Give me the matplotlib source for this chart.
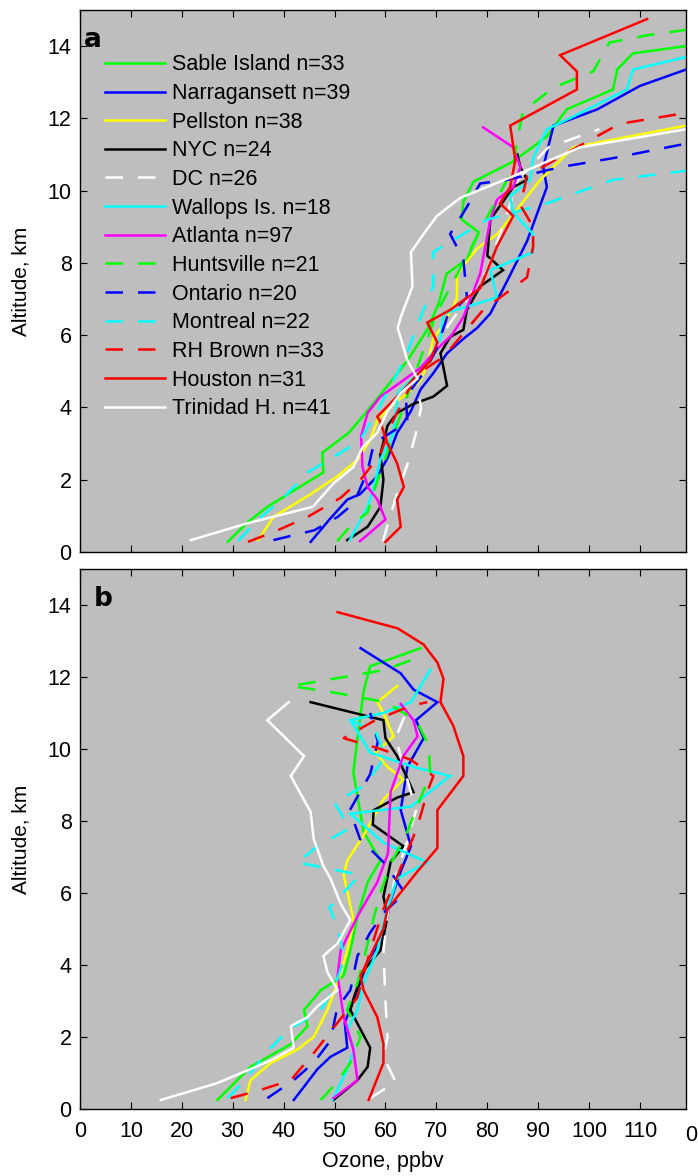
import matplotlib
matplotlib.use("Agg")
import matplotlib.pyplot as plt
from matplotlib.transforms import blended_transform_factory

plt.rcParams['font.family'] = ['Liberation Sans', 'DejaVu Sans']

stations = ["Sable Island n=33", "Narragansett n=39", "Pellston n=38", "NYC n=24",
            "DC n=26", "Wallops Is. n=18", "Atlanta n=97", "Huntsville n=21",
            "Ontario n=20", "Montreal n=22", "RH Brown n=33", "Houston n=31",
            "Trinidad H. n=41"]
colors = ["#00ff00", "#0000ff", "#ffff00", "#000000", "#ffffff", "#00ffff", "#ff00ff",
          "#00ff00", "#0000ff", "#00ffff", "#ff0000", "#ff0000", "#ffffff"]
dashed = [False, False, False, False, True, False, False,
          True, True, True, True, False, False]

# ---- panel a: ozone (ppbv) and altitude (km) ----
sable_a_o3 = [29, 33, 36.8, 42, 47.8, 47.6, 52.8, 56.4, 60.4, 64.3, 68.2, 70.5, 72, 76, 78.3,
              75, 75.3, 77.3, 85, 91.7, 95.6, 104.7, 105.5, 108.6, 119]
sable_a_km = [0.28, 0.83, 1.25, 1.7, 2.2, 2.75, 3.3, 3.9, 4.6, 5.3, 6.15, 6.9, 7.7, 8.1, 8.85,
              9.2, 9.7, 10.25, 10.8, 11.5, 12.25, 12.8, 13.35, 13.8, 14.0]
narr_a_o3 = [45.3, 49, 52.5, 55, 58.4, 60.4, 62.3, 65, 66.9, 69.4, 72.1, 75.3, 78, 80.6, 83.9,
             87.8, 91.7, 91, 93, 101.6, 110, 119]
narr_a_km = [0.28, 0.9, 1.45, 1.6, 2.1, 2.6, 3.3, 3.9, 4.5, 4.95, 5.5, 5.9, 6.2, 6.6, 7.5,
             8.6, 10.1, 10.65, 11.8, 12.25, 12.9, 13.35]
pell_a_o3 = [35, 38, 45.3, 50.6, 54.5, 57, 58.4, 61.6, 64.3, 66.9, 68.2, 69.4, 71.4, 74, 74.1,
             78, 82, 86.5, 90.4, 96.9, 119]
pell_a_km = [0.33, 0.97, 1.6, 2.1, 2.55, 3.1, 3.65, 4.1, 4.4, 4.75, 5.2, 5.9, 6.3, 7.0, 7.7,
             8.4, 8.8, 9.6, 10.3, 11.2, 11.8]
nyc_a_o3 = [52.5, 56.5, 59, 59.6, 59, 60.4, 62.3, 65.5, 69.4, 72.1, 71.4, 70.8, 72.7, 75.3, 76,
            78.6, 83.1, 80, 80.6, 85.1, 87.8, 86.5, 85.9]
nyc_a_km = [0.33, 0.7, 1.25, 2.0, 2.7, 3.5, 3.85, 4.1, 4.3, 4.6, 5.1, 5.5, 5.95, 6.15, 6.7,
            7.35, 7.8, 8.2, 9.2, 10.1, 10.3, 10.65, 11.0]
dc_a_o3 = [59.5, 62, 64.5, 66, 67, 66, 69, 72, 76, 80, 82, 84, 86, 92, 102]
dc_a_km = [0.3, 1.5, 2.5, 3.3, 4.0, 4.8, 5.5, 6.2, 7.0, 7.8, 8.6, 9.4, 10.3, 11.2, 11.7]
wall_a_o3 = [53, 56.5, 57.7, 59, 61.6, 62.4, 67.5, 70.8, 71.4, 78.6, 81.9, 80.6, 89, 89, 85,
             84.5, 88.4, 89, 91.7, 96.9, 107.4, 108.6, 119]
wall_a_km = [0.33, 1.25, 1.8, 2.55, 3.3, 4.4, 5.1, 5.9, 6.6, 6.9, 7.05, 7.8, 8.3, 8.8, 9.4,
             9.85, 10.3, 10.9, 11.7, 12.05, 12.8, 13.35, 13.7]
atl_a_o3 = [55, 60, 58.4, 56.5, 55.5, 55.2, 56.5, 59, 63, 66.9, 70, 73, 75.3, 78.6, 80.6,
            81.9, 85.1, 86.5, 85.1, 79.2]
atl_a_km = [0.3, 0.9, 1.45, 1.8, 2.35, 3.2, 3.85, 4.3, 4.7, 5.1, 5.6, 6.0, 6.5, 7.7, 9.2,
            9.75, 10.1, 10.65, 11.2, 11.75]
hunt_a_o3 = [50.5, 53, 56.5, 58, 60, 62, 64, 66, 68, 70, 73, 76, 79, 82, 85, 86, 87, 93,
             100.8, 104, 111.4, 119]
hunt_a_km = [0.3, 0.7, 1.1, 1.8, 2.6, 3.4, 4.2, 5.0, 5.8, 6.6, 7.4, 8.2, 9.0, 9.8, 10.6, 11.5,
             12.2, 12.85, 13.3, 14.1, 14.3, 14.45]
ont_a_o3 = [38, 46, 50.6, 53.8, 56.5, 57.7, 61, 64.3, 64, 67.5, 70, 72.1, 76, 75.3, 72.7, 76,
            78.6, 84, 94.3, 104.7, 119]
ont_a_km = [0.33, 0.6, 0.97, 1.35, 2.25, 3.0, 3.3, 3.6, 4.3, 4.95, 5.6, 6.5, 7.05, 8.1, 8.8,
            9.55, 10.2, 10.3, 10.65, 10.9, 11.3]
mont_a_o3 = [31, 35, 40, 44.7, 51.8, 55, 58, 61, 64, 66, 69.4, 69.4, 74.7, 80, 91.7, 104.7, 119]
mont_a_km = [0.3, 0.9, 1.5, 2.2, 2.8, 3.1, 3.8, 4.6, 5.4, 6.2, 7.35, 8.3, 8.75, 9.2, 9.65,
             10.3, 10.55]
rhb_a_o3 = [33, 38.8, 44.7, 51.2, 55.1, 59, 61, 63.5, 66, 71.4, 79.2, 84.5, 87.8, 89, 89,
            86.5, 87.8, 96.3, 106, 119]
rhb_a_km = [0.28, 0.6, 0.97, 1.5, 2.0, 2.7, 3.5, 4.2, 4.9, 5.4, 6.7, 7.25, 7.6, 8.45, 9.0,
            9.6, 10.4, 11.1, 11.85, 12.15]
hou_a_o3 = [60, 63, 62.3, 63.6, 62.3, 60.4, 59, 58.4, 63, 68.8, 70.2, 68.2, 72.7, 78.6, 81.9,
            85.1, 82.5, 84.5, 85.5, 84.5, 90.4, 97.6, 97.6, 94.3, 111.4]
hou_a_km = [0.28, 0.7, 1.45, 1.8, 2.45, 3.0, 3.6, 3.75, 4.4, 5.3, 5.8, 6.35, 6.7, 7.3, 8.45,
            9.3, 9.65, 10.1, 10.85, 11.8, 12.25, 12.8, 13.3, 13.75, 14.75]
trin_a_o3 = [21.8, 33, 45.7, 49.8, 53.7, 55.5, 58.4, 60.4, 63, 66.3, 64.3, 62.4, 63, 65.3, 65,
             67.5, 70.1, 74.7, 85.1, 98.2, 119]
trin_a_km = [0.33, 0.8, 1.25, 1.9, 2.35, 2.9, 3.3, 3.9, 4.4, 4.8, 5.3, 6.2, 6.5, 7.35, 8.3,
             8.8, 9.3, 9.8, 10.4, 11.2, 11.7]

# ---- panel b ----
sable_b_o3 = [27, 33.5, 41.4, 44.7, 44, 47.3, 51.8, 53.1, 54.5, 56.5, 59, 55.7, 53.7, 54.5,
              55.7, 57, 63, 66.9]
sable_b_km = [0.25, 1.17, 1.8, 2.3, 2.75, 3.3, 3.7, 4.4, 5.35, 6.3, 6.9, 7.7, 9.35, 10.3,
              11.6, 12.3, 12.6, 12.8]
narr_b_o3 = [42, 46.6, 49.2, 52.5, 52, 54.5, 56.5, 59.6, 61, 63, 65, 63, 64.3, 67.5, 66, 70.2,
             65.5, 63, 55.1]
narr_b_km = [0.25, 1.1, 1.45, 1.7, 2.4, 3.3, 4.1, 4.8, 5.8, 6.6, 7.3, 8.3, 9.5, 10.3, 10.8,
             11.3, 11.65, 12.1, 12.8]
pell_b_o3 = [32.5, 33.5, 37.5, 42.7, 45.9, 48.6, 50.6, 52.5, 53.8, 51.8, 52.5, 55.7, 59.6,
             63.5, 60.4, 58, 61.6, 59.6, 58.4, 62.3]
pell_b_km = [0.25, 0.8, 1.28, 1.65, 2.0, 2.75, 3.5, 4.4, 5.2, 6.5, 6.9, 7.6, 8.6, 9.15, 9.5,
             9.9, 10.35, 11.0, 11.3, 11.75]
nyc_b_o3 = [49.8, 54.5, 56.5, 57, 53.1, 53.8, 55.7, 59, 60.4, 59.6, 61, 63.5, 57.5, 57.7,
            62.3, 65.5, 62.3, 60, 59.6, 45.3]
nyc_b_km = [0.25, 0.8, 1.17, 1.7, 2.75, 3.1, 3.85, 4.4, 5.35, 5.9, 6.85, 7.3, 7.9, 8.3,
            8.65, 8.8, 9.8, 10.3, 10.8, 11.3]
dc_b_o3 = [57, 62, 59.6, 60.4, 60, 59.6, 60.5, 62, 64, 66, 64, 62, 64]
dc_b_km = [0.3, 0.75, 1.45, 2.0, 3.0, 4.4, 5.5, 6.5, 7.3, 8.3, 9.3, 10.3, 11.0]
wall_b_o3 = [49.6, 52.5, 53.8, 52.5, 54.5, 55.7, 58.4, 60, 62.3, 68.2, 59.6, 53.1, 65, 72.7,
             65.5, 57, 53.1, 59.6, 65, 68.8]
wall_b_km = [0.25, 1.1, 1.65, 2.2, 2.75, 3.5, 4.4, 5.4, 6.4, 6.85, 7.4, 8.2, 8.4, 9.25, 9.5,
             9.9, 10.8, 11.0, 11.3, 12.2]
atl_b_o3 = [49.8, 54.5, 53.7, 51.8, 50.6, 51.2, 54.5, 58.4, 60.5, 61, 63.5, 66.3, 65.5, 63]
atl_b_km = [0.3, 0.8, 1.65, 2.55, 3.7, 4.4, 5.35, 6.3, 7.1, 8.8, 9.8, 10.35, 10.8, 11.25]
hunt_b_o3 = [47.3, 50.5, 53.1, 55.1, 52.5, 54.5, 56, 57.5, 59, 61, 64, 66.5, 68.8, 68.5, 66,
             60, 50.6, 41.4, 52, 60, 67.5]
hunt_b_km = [0.25, 0.75, 1.28, 2.0, 2.75, 3.5, 4.3, 5.2, 6.0, 6.8, 7.6, 8.5, 9.3, 10.1, 10.8,
             11.3, 11.55, 11.75, 12.0, 12.2, 12.6]
ont_b_o3 = [36.8, 42, 46, 49.2, 50.5, 53.1, 54.5, 57, 60, 63.8, 60, 55, 53, 57, 58.5, 57]
ont_b_km = [0.3, 0.8, 1.3, 1.9, 2.8, 3.3, 4.25, 4.9, 5.5, 6.0, 6.8, 7.5, 8.3, 9.3, 10.2, 11.0]
mont_b_o3 = [29, 33, 36.8, 41, 47.3, 50, 52, 50.6, 49, 53, 55, 42.7, 46.7, 53, 50, 56, 60, 58, 53]
mont_b_km = [0.3, 0.9, 1.6, 2.2, 2.75, 3.4, 4.2, 5.0, 5.6, 6.2, 6.5, 6.85, 7.3, 7.8, 8.5, 9.0,
             9.8, 10.5, 10.8]
rhb_b_o3 = [29.6, 35.5, 41.4, 45.9, 50.6, 54.5, 57, 59.6, 63, 66.3, 68.2, 69.4, 65, 59, 51.8,
            58, 65, 68.2]
rhb_b_km = [0.3, 0.53, 0.8, 1.55, 2.4, 3.1, 4.4, 5.55, 6.7, 7.85, 8.8, 9.25, 9.7, 10.0, 10.3,
            10.8, 11.2, 11.3]
hou_b_o3 = [56.7, 59.6, 59.6, 58.4, 55.7, 55.1, 57, 59.6, 60.4, 66.3, 70.2, 70.2, 75.3, 75.3,
            73.3, 70.8, 71.4, 70.2, 67.5, 62.4, 50.6]
hou_b_km = [0.25, 1.28, 1.8, 2.55, 3.3, 3.7, 4.25, 5.0, 5.55, 6.6, 7.25, 8.3, 9.25, 9.8, 10.65,
            11.3, 11.95, 12.4, 12.9, 13.35, 13.8]
trin_b_o3 = [15.9, 27, 37.5, 42, 41.4, 44.7, 46.6, 50.6, 48.6, 47.8, 50.6, 53.1, 51.2, 49.2,
             47.8, 45.9, 45.3, 41.4, 44, 36.8, 41]
trin_b_km = [0.25, 0.72, 1.35, 1.7, 2.3, 2.55, 2.85, 3.3, 3.8, 4.25, 4.6, 5.25, 5.7, 6.4,
             6.75, 7.5, 8.25, 9.25, 9.8, 10.8, 11.3]

panel_a = [(sable_a_o3, sable_a_km), (narr_a_o3, narr_a_km), (pell_a_o3, pell_a_km),
           (nyc_a_o3, nyc_a_km), (dc_a_o3, dc_a_km), (wall_a_o3, wall_a_km),
           (atl_a_o3, atl_a_km), (hunt_a_o3, hunt_a_km), (ont_a_o3, ont_a_km),
           (mont_a_o3, mont_a_km), (rhb_a_o3, rhb_a_km), (hou_a_o3, hou_a_km),
           (trin_a_o3, trin_a_km)]
panel_b = [(sable_b_o3, sable_b_km), (narr_b_o3, narr_b_km), (pell_b_o3, pell_b_km),
           (nyc_b_o3, nyc_b_km), (dc_b_o3, dc_b_km), (wall_b_o3, wall_b_km),
           (atl_b_o3, atl_b_km), (hunt_b_o3, hunt_b_km), (ont_b_o3, ont_b_km),
           (mont_b_o3, mont_b_km), (rhb_b_o3, rhb_b_km), (hou_b_o3, hou_b_km),
           (trin_b_o3, trin_b_km)]

xticks = list(range(0, 111, 10))
yticks = list(range(0, 15, 2))

fig = plt.figure(figsize=(6.98, 11.76), dpi=100)
ax_a = fig.add_axes([0.1146, 0.5306, 0.868, 0.4609])
ax_b = fig.add_axes([0.1146, 0.0570, 0.868, 0.4592])


def draw(ax, series, tag, tag_x):
    ax.set_facecolor("#bebebe")
    for (o3, km), name, c, d in zip(series, stations, colors, dashed):
        ln, = ax.plot(o3, km, color=c, lw=1.8, label=name, solid_joinstyle='miter')
        if d:
            ln.set_dashes((7, 6))
    ax.set_xlim(0, 119)
    ax.set_ylim(0, 15)
    ax.set_xticks(xticks)
    ax.set_yticks(yticks)
    ax.tick_params(direction='in', top=True, right=True, length=5, width=0.8,
                   labelsize=15.5, pad=6)
    ax.tick_params(axis='x', pad=9)
    ax.set_ylabel("Altitude, km", fontsize=15, labelpad=12)
    ax.text(tag_x, 0.968, tag, transform=ax.transAxes, fontsize=19, fontweight='bold',
            family='DejaVu Sans', va='top', ha='left')
    for sp in ax.spines.values():
        sp.set_linewidth(1.0)


draw(ax_a, panel_a, "a", 0.006)
draw(ax_b, panel_b, "b", 0.022)
ax_a.tick_params(labelbottom=False)
ax_b.set_xlabel("Ozone, ppbv", fontsize=15.5, labelpad=6)
trans = blended_transform_factory(ax_b.transData, ax_b.transAxes)
ax_b.text(120, -0.03, "0", transform=trans, fontsize=15.5, ha='center', va='top',
          clip_on=False)

ax_a.legend(loc='upper left', bbox_to_anchor=(0.041, 0.918), frameon=False, fontsize=15.5,
            handlelength=2.8, handletextpad=0.33, labelspacing=0.355, borderpad=0,
            borderaxespad=0)

fig.savefig("out.png", dpi=100)
